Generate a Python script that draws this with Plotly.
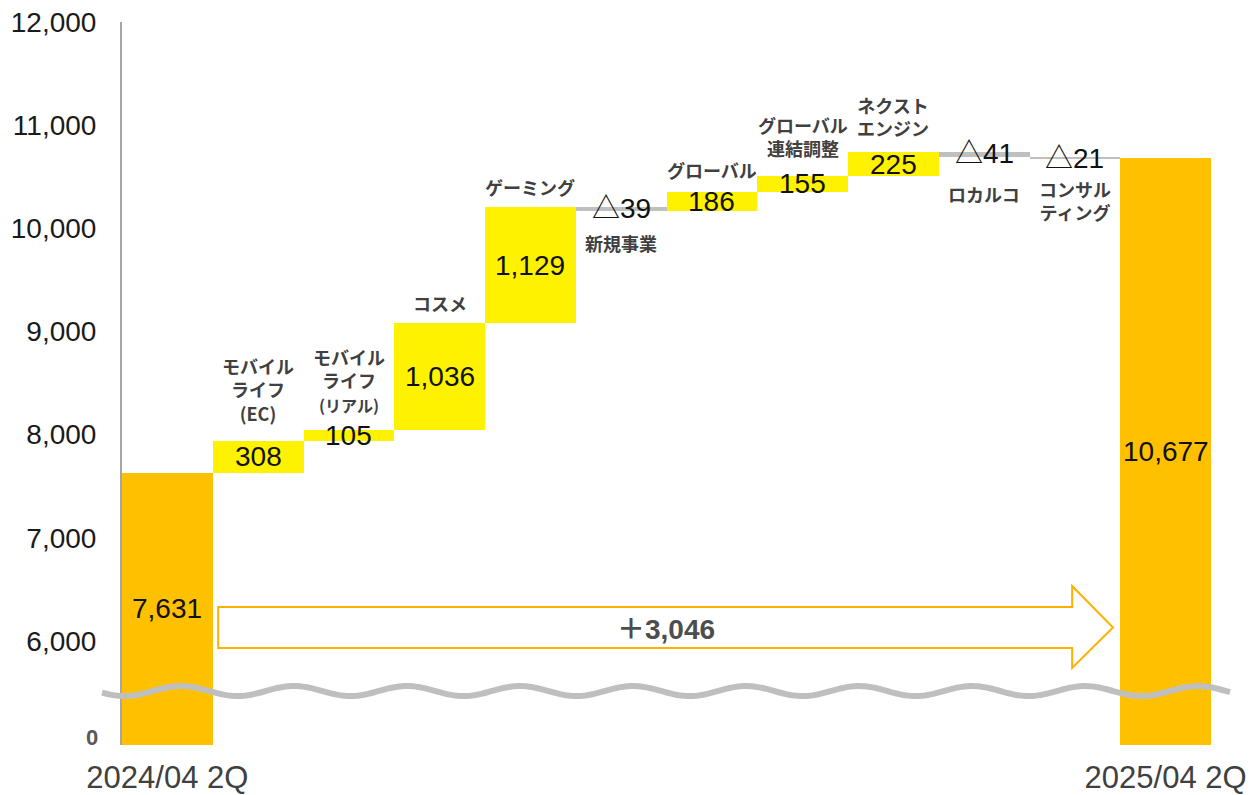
import numpy as np
import plotly.graph_objects as go

# ---- data -------------------------------------------------------------
categories = [
    "2024/04 2Q", "モバイルライフ(EC)", "モバイルライフ(リアル)", "コスメ",
    "ゲーミング", "新規事業", "グローバル", "グローバル連結調整",
    "ネクストエンジン", "ロカルコ", "コンサルティング", "2025/04 2Q",
]
values = [7631, 308, 105, 1036, 1129, -39, 186, 155, 225, -41, -21, 10677]
kinds = ["total"] + ["delta"] * 10 + ["total"]

# text drawn next to each segment (line breaks as shown on the chart)
segment_text = [
    None,
    "モバイル<br>ライフ<br>(EC)",
    "モバイル<br>ライフ<br><span style='font-size:16px'>(リアル)</span>",
    "コスメ",
    "ゲーミング",
    "新規事業",
    "グローバル",
    "グローバル<br>連結調整",
    "ネクスト<br>エンジン",
    "ロカルコ",
    "コンサル<br>ティング",
    None,
]
y_tick_vals = [6000, 7000, 8000, 9000, 10000, 11000, 12000]

# ---- style ------------------------------------------------------------
W, H = 1253, 795
M_L, M_R, M_T, M_B = 122, 42, 22, 50
Y_MIN, Y_MAX = 4992, 12000          # broken axis: bottom of plot sits just under the "0" mark
ZERO_MARK = 5060                     # where the "0" label is drawn on the broken axis
ORANGE, YELLOW, GRAY = "#FFC000", "#FFF200", "#BFBFBF"
NUM_FONT = "Liberation Sans, Arial, sans-serif"
JP_FONT = "Noto Sans CJK JP, sans-serif"
TRI = "<span style='font-family:Noto Sans CJK JP'>△</span>"
# vertical offsets (px) of the segment captions from their anchor
caption_shift = [None, 51, 50, 20, 20, -32, 22, 39, 36, -37, -42, None]

x = list(range(len(values)))

# ---- bar geometry from running totals ---------------------------------
bases, heights, colors, starts, ends = [], [], [], [], []
run = 0
for v, k in zip(values, kinds):
    if k == "total":
        start, end = 0, v
        colors.append(ORANGE)
    else:
        start, end = run, run + v
        colors.append(YELLOW if v > 0 else GRAY)
    bases.append(min(start, end))
    heights.append(abs(end - start))
    starts.append(start)
    ends.append(end)
    run = end

fig = go.Figure()
fig.add_trace(go.Bar(
    x=x, y=heights, base=bases, width=1.0,
    marker=dict(color=colors, line=dict(width=0)),
    hoverinfo="skip", showlegend=False,
))

num_font = dict(family=NUM_FONT, size=28, color="#111111")
annotations = []
for i, (v, k) in enumerate(zip(values, kinds)):
    if k == "total":
        annotations.append(dict(
            x=i, y=(max(Y_MIN, 0) + v) / 2, text=f"{v:,}", showarrow=False,
            font=num_font,
        ))
        continue
    top, bottom = max(starts[i], ends[i]), min(starts[i], ends[i])
    if v > 0:
        annotations.append(dict(
            x=i, y=(top + bottom) / 2, text=f"{v:,}", showarrow=False,
            font=num_font,
        ))
        cap_anchor = top
    else:
        annotations.append(dict(
            x=i, y=top, yshift=1, text=f"{TRI}{abs(v):,}", showarrow=False,
            font=num_font,
        ))
        cap_anchor = bottom
    annotations.append(dict(
        x=i, y=cap_anchor, yshift=caption_shift[i], text=f"<b>{segment_text[i]}</b>",
        showarrow=False, yanchor="middle",
        font=dict(family=JP_FONT, size=18, color="#404040"),
    ))

# "0" at the foot of the broken axis
annotations.append(dict(
    xref="paper", x=0, xanchor="right", xshift=-22, y=ZERO_MARK, yref="y",
    text="<b>0</b>", showarrow=False,
    font=dict(family=NUM_FONT, size=22, color="#595959"),
))

# ---- growth arrow between the two totals ------------------------------
ax0, ax_head, ax_tip = 0.56, 9.97, 10.42
shaft_lo, shaft_hi = 5932, 6330
head_lo, head_hi = 5739, 6533
mid_y = (shaft_lo + shaft_hi) / 2
arrow_path = (
    f"M {ax0},{shaft_lo} L {ax_head},{shaft_lo} L {ax_head},{head_lo} "
    f"L {ax_tip},{mid_y} L {ax_head},{head_hi} L {ax_head},{shaft_hi} "
    f"L {ax0},{shaft_hi} Z"
)
growth = values[-1] - values[0]
annotations.append(dict(
    x=(ax0 + ax_tip) / 2, y=mid_y,
    text=f"<b><span style='font-family:Noto Sans CJK JP'>＋</span>{growth:,}</b>",
    showarrow=False,
    font=dict(family=NUM_FONT, size=28, color="#4D4D4D"),
))

shapes = [dict(
    type="path", path=arrow_path, xref="x", yref="y",
    line=dict(color="#FFB000", width=2), fillcolor="white", layer="above",
)]

# ---- wavy break line across the axis ---------------------------------
def to_paper(xd):
    return (xd + 0.5) / 12.0

wave_x = np.linspace(-0.72, 11.71, 400)
wave_center = (5515 - Y_MIN) / (Y_MAX - Y_MIN)
amp = 5 / (H - M_T - M_B)
period = 113 / ((W - M_L - M_R) / 12.0)
wave_y = wave_center + amp * np.cos(2 * np.pi * (wave_x + 1.095) / period)
wave_path = "M " + " L ".join(f"{to_paper(a):.5f},{b:.5f}" for a, b in zip(wave_x, wave_y))
shapes.append(dict(
    type="path", path=wave_path, xref="paper", yref="paper",
    line=dict(color="#BFBFBF", width=6), layer="above",
))

fig.update_layout(
    width=W, height=H,
    margin=dict(l=M_L, r=M_R, t=M_T, b=M_B, autoexpand=False),
    paper_bgcolor="white", plot_bgcolor="white",
    bargap=0,
    annotations=annotations,
    shapes=shapes,
    xaxis=dict(
        range=[-0.5, 11.5], tickvals=[0, len(values) - 1],
        ticktext=[categories[0], categories[-1]],
        tickfont=dict(family=NUM_FONT, size=31, color="#404040"),
        showgrid=False, zeroline=False, showline=False, ticks="",
        ticklabelstandoff=11, automargin=False, fixedrange=True,
    ),
    yaxis=dict(
        range=[Y_MIN, Y_MAX], tickvals=y_tick_vals,
        ticktext=[f"{v:,}" for v in y_tick_vals],
        tickfont=dict(family=NUM_FONT, size=28, color="#1A1A1A"),
        showgrid=False, zeroline=False, showline=True,
        linecolor="#A6A6A6", linewidth=2, ticks="",
        ticklabelstandoff=18, automargin=False, fixedrange=True,
    ),
)

fig.write_html("out.html")
